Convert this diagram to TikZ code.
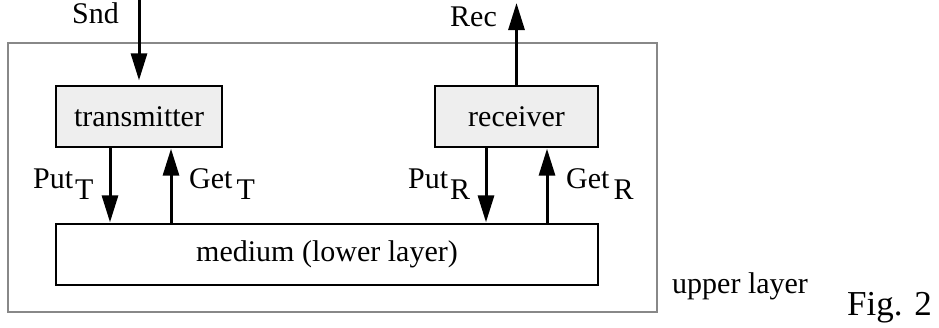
\documentclass[tikz,border=0pt]{standalone}
\usepackage{fontspec}
\setmainfont{Liberation Serif}
\usetikzlibrary{arrows.meta}
\definecolor{boxfill}{HTML}{EEEEEE}
\definecolor{framegray}{HTML}{888888}
\newcommand{\lowsub}[1]{\raisebox{-11pt}{#1}}
\begin{document}
\begin{tikzpicture}[x=1pt,y=-1pt,
  font=\fontsize{30}{36}\selectfont,
  box/.style={draw=black,line width=1.3pt,inner sep=0pt},
  procbox/.style={box,fill=boxfill,minimum height=61pt},
  frame/.style={draw=framegray,line width=2.5pt,inner sep=0pt},
  arr/.style={line width=3pt,-{Triangle[length=27pt,width=16pt]}},
  lbl/.style={inner sep=0pt,anchor=base west}]
\useasboundingbox (0,0) rectangle (939,327);
\node[frame,minimum width=649pt,minimum height=269pt] (upper) at (332.5,177.5) {};
\node[procbox,minimum width=166pt] (tx) at (139,116.5) {transmitter};
\node[procbox,minimum width=163pt] (rx) at (516.5,116.5) {receiver};
\node[box,minimum width=542pt,minimum height=61pt] (med) at (327,254.5) {medium (lower layer)};
\coordinate (snd) at (139,0);
\coordinate (rec) at (516.5,3);
\draw[arr,shorten >=5pt] (snd) -- (tx.north);
\draw[arr] (rx.north) -- (rec);
\draw[arr,shorten >=1pt] ([xshift=-29pt]tx.south) -- ([xshift=-29pt]tx.south |- med.north);
\draw[arr,shorten >=1pt] ([xshift=32pt]tx.south |- med.north) -- ([xshift=32pt]tx.south);
\draw[arr,shorten >=1pt] ([xshift=-30.5pt]rx.south) -- ([xshift=-30.5pt]rx.south |- med.north);
\draw[arr,shorten >=1pt] ([xshift=30.5pt]rx.south |- med.north) -- ([xshift=30.5pt]rx.south);
\node[lbl] (sndl) at (72,23) {Snd};
\node[lbl] (recl) at (450,26) {Rec};
\node[lbl] (putt) at (33,188) {Put\kern2pt\lowsub{T}};
\node[lbl] (gett) at (189,188) {Get\kern4pt\lowsub{T}};
\node[lbl] (putr) at (408,188) {Put\kern2pt\lowsub{R}};
\node[lbl] (getr) at (566,188) {Get\kern4pt\lowsub{R}};
\node[lbl] (ul) at (672,293) {upper layer};
\node[lbl,font=\fontsize{35}{40}\selectfont] (fig) at (847,315) {Fig. 2};
\end{tikzpicture}
\end{document}
